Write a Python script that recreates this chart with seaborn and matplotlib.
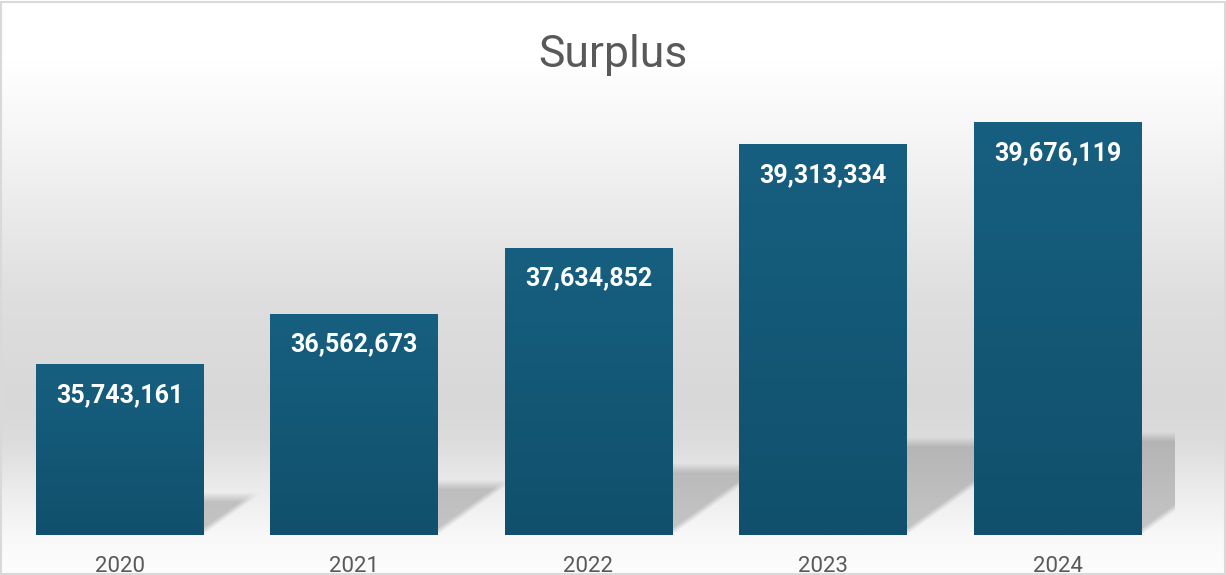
import numpy as np
import matplotlib
matplotlib.use("Agg")
import matplotlib.pyplot as plt
import seaborn as sns
from matplotlib.colors import to_rgb
from matplotlib.patches import Rectangle

# ---------------- data ----------------
years = ["2020", "2021", "2022", "2023", "2024"]
surplus = [35743161, 36562673, 37634852, 39313334, 39676119]
title = "Surplus"

# ---------------- style ----------------
sns.set_theme(style="white")
plt.rcParams["font.family"] = ["Roboto", "DejaVu Sans"]

W_PX, H_PX, DPI = 1226, 575, 100
fig = plt.figure(figsize=(W_PX / DPI, H_PX / DPI), dpi=DPI)
fig.patch.set_facecolor("white")

# background vertical gradient (whole chart area)
bg = fig.add_axes([0, 0, 1, 1], zorder=-10)
stops = [(0, "#ffffff"), (60, "#ffffff"), (120, "#f8f8f8"), (200, "#ececec"),
         (300, "#dedede"), (400, "#d8d8d8"), (440, "#dcdcdc"), (490, "#ececec"),
         (535, "#f8f8f8"), (575, "#fdfdfd")]
ys = np.arange(H_PX)
pos = np.array([p for p, _ in stops], dtype=float)
cols = np.array([to_rgb(c) for _, c in stops])
grad = np.stack([np.interp(ys, pos, cols[:, j]) for j in range(3)], axis=1)
bg.imshow(grad[:, None, :], aspect="auto", extent=[0, 1, 0, 1], origin="upper")
bg.set_axis_off()

# main axes
ax_left, ax_right = 2.25, 1174.75
ax_bottom, ax_top = 535, 102
ax = fig.add_axes([ax_left / W_PX, (H_PX - ax_bottom) / H_PX,
                   (ax_right - ax_left) / W_PX, (ax_bottom - ax_top) / H_PX])
ax.patch.set_alpha(0)

bar_w = 0.716
sns.barplot(x=years, y=surplus, color="#14587a", saturation=1, width=bar_w,
            ax=ax, zorder=1, linewidth=0, edgecolor="none")

ymin, ymax = 32.964e6, 40.0e6
xmin, xmax = -0.5, len(years) - 0.5

# perspective shadows (soft), computed from bar geometry
axW = int(round(ax_right - ax_left))
axH = int(round(ax_bottom - ax_top))
px_per_x = axW / (xmax - xmin)
px_per_y = axH / (ymax - ymin)
xx = np.arange(axW)[None, :] + 0.5
uu = np.arange(axH)[:, None] + 0.5  # px above baseline
alpha_map = np.zeros((axH, axW))
soft = 10.0
for i, v in enumerate(surplus):
    cx = (i - xmin) * px_per_x
    xl, xr = cx - bar_w / 2 * px_per_x, cx + bar_w / 2 * px_per_x
    h = (v - ymin) * px_per_y
    dy = 0.25 * h
    k = 1.4
    xs = xx - uu * k
    a = (np.clip((dy - uu) / soft, 0, 1) * np.clip((xs - xl) / soft, 0, 1)
         * np.clip((xr - xs) / soft, 0, 1) * (uu >= 0))
    alpha_map = np.maximum(alpha_map, a)
shadow = np.zeros((axH, axW, 4))
shadow[..., :3] = 0.45
shadow[..., 3] = alpha_map * 0.38
ax.imshow(shadow, origin="lower", extent=[xmin, xmax, ymin, ymax],
          aspect="auto", zorder=0.5, interpolation="bilinear")

# gradient fill on bars
bar_grad = np.stack([np.interp(np.linspace(0, 1, 256), [0, 1],
                               [to_rgb("#10506c")[j], to_rgb("#175f80")[j]])
                     for j in range(3)], axis=1)[:, None, :]
for p in list(ax.patches):
    x0 = p.get_x()
    x1 = x0 + p.get_width()
    top = p.get_y() + p.get_height()
    im = ax.imshow(bar_grad, origin="lower", extent=[x0, x1, ymin, top],
                   aspect="auto", zorder=2)
    im.set_clip_path(p)

# data labels
for i, v in enumerate(surplus):
    ax.annotate(f"{v:,}", xy=(i, v), xytext=(0, -38), textcoords="offset pixels",
                ha="center", va="baseline", color="white", fontsize=18,
                fontweight="bold", zorder=5)

ax.set_xlim(xmin, xmax)
ax.set_ylim(ymin, ymax)
ax.set_yticks([])
ax.set_xlabel("")
ax.set_ylabel("")
ax.tick_params(axis="x", length=0, pad=15, labelsize=16, labelcolor="#595959")
for s in ax.spines.values():
    s.set_visible(False)

fig.text(0.5, 1 - 67 / H_PX, title, ha="center", va="baseline",
         fontsize=32, color="#595959")

fig.add_artist(Rectangle((1 / W_PX, 1 / H_PX), 1 - 2.5 / W_PX, 1 - 3 / H_PX,
                         transform=fig.transFigure, fill=False,
                         edgecolor="#d9d9d9", linewidth=1.5))

fig.savefig("out.png", dpi=DPI)
